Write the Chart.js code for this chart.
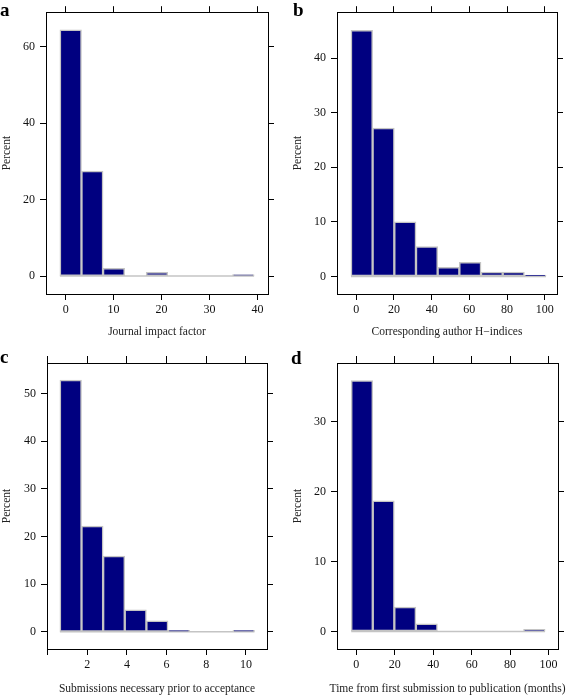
<!DOCTYPE html>
<html lang="en">
<head>
<meta charset="UTF-8">
<title>Histograms</title>
<script src="https://cdn.jsdelivr.net/npm/chart.js@4"></script>
<style>
  body { margin: 0; background: #fff; width: 566px; height: 695px; position: relative; overflow: hidden; font-family: "Liberation Serif", serif; }
  canvas { position: absolute; }
  .tag { position: absolute; font-weight: bold; font-size: 19px; line-height: 19px; color: #000; }
</style>
</head>
<body>
<canvas id="histA" width="283" height="340" style="left:0;top:0"></canvas>
<canvas id="histB" width="283" height="340" style="left:283px;top:0"></canvas>
<canvas id="histC" width="283" height="355" style="left:0;top:340px"></canvas>
<canvas id="histD" width="283" height="355" style="left:283px;top:340px"></canvas>
<div class="tag" style="left:0;top:0">a</div>
<div class="tag" style="left:293px;top:0">b</div>
<div class="tag" style="left:0;top:347px">c</div>
<div class="tag" style="left:291px;top:348px">d</div>
<script>
// a - journal impact factor
const impactEdges = [-1.2, 3.3, 7.8, 12.3, 16.8, 21.3, 25.8, 30.3, 34.8, 39.3]
const impactPercent = [64.5, 27.5, 2.0, 0, 1.0, 0, 0, 0, 0.4]
const impactTicks = [0, 10, 20, 30, 40]
const impactTickLabels = ['0', '10', '20', '30', '40']
const impactPercentTicks = [0, 20, 40, 60]

// b - corresponding author h-index
const hindexEdges = [-2.8, 8.7, 20.2, 31.7, 43.2, 54.7, 66.2, 77.7, 89.2, 100.7]
const hindexPercent = [45.1, 27.2, 10.0, 5.5, 1.7, 2.6, 0.8, 0.8, 0.25]
const hindexTicks = [0, 20, 40, 60, 80, 100]
const hindexTickLabels = ['0', '20', '40', '60', '80', '100']
const hindexPercentTicks = [0, 10, 20, 30, 40]

// c - submissions before acceptance
const submitEdges = [0.62, 1.71, 2.80, 3.89, 4.98, 6.07, 7.16, 8.25, 9.34, 10.43]
const submitPercent = [52.8, 22.2, 15.9, 4.6, 2.3, 0.3, 0, 0, 0.3]
const submitTicks = [0, 2, 4, 6, 8, 10]
const submitTickLabels = ['', '2', '4', '6', '8', '10']
const submitPercentTicks = [0, 10, 20, 30, 40, 50]

// d - months from first submission to publication
const monthsEdges = [-2.6, 8.6, 19.8, 31.0, 42.2, 53.4, 64.6, 75.8, 87.0, 98.2]
const monthsPercent = [35.9, 18.7, 3.5, 1.1, 0, 0, 0, 0, 0.3]
const monthsTicks = [0, 20, 40, 60, 80, 100]
const monthsTickLabels = ['0', '20', '40', '60', '80', '100']
const monthsPercentTicks = [0, 10, 20, 30]

const navy = '#000080'
const edgeGray = '#c4c4c4'
const tickFont = { family: 'Liberation Serif', size: 12 }

// x caption drawn by hand: the built-in axis title squeezes long text to the chart width
const axisCaption = {
  id: 'axisCaption',
  afterDraw(chart, args, opts) {
    const { ctx, chartArea } = chart
    ctx.save()
    ctx.font = opts.size + 'px "Liberation Serif"'
    ctx.fillStyle = '#222'
    ctx.textAlign = 'center'
    ctx.textBaseline = 'middle'
    ctx.fillText(opts.text, (chartArea.left + chartArea.right) / 2, chart.height - opts.fromBottom)
    ctx.restore()
  }
}

function binCenters(edges) {
  return edges.slice(1).map((e, i) => (edges[i] + e) / 2)
}

function makeHistogram(id, edges, values, xTicks, xLabels, yTicks, xTitle, box) {
  const ctx = document.getElementById(id).getContext('2d')
  const mids = binCenters(edges)
  const setTicks = vals => s => { s.ticks = vals.map(v => ({ value: v })) }
  const border = { display: true, color: '#000', width: 1 }
  const marks = len => ({ display: true, drawOnChartArea: false, drawTicks: true, tickLength: len, tickColor: '#000', tickWidth: 1, offset: false })
  const blank = { callback: () => '' }

  return new Chart(ctx, {
    type: 'bar',
    plugins: [axisCaption],
    data: {
      datasets: [{
        data: mids.map((m, i) => ({ x: m, y: values[i] })),
        backgroundColor: navy,
        borderColor: edgeGray,
        borderWidth: 1.5,
        borderSkipped: false,
        barPercentage: 1,
        categoryPercentage: 1,
        order: 1
      }, {
        type: 'line',
        data: [{ x: edges[0], y: 0 }, { x: edges[edges.length - 1], y: 0 }],
        borderColor: edgeGray,
        borderWidth: 1.5,
        pointRadius: 0,
        order: 2
      }]
    },
    options: {
      responsive: false,
      animation: false,
      layout: { padding: { left: box.padLeft, top: 0, right: 0, bottom: 0 } },
      plugins: {
        legend: { display: false },
        tooltip: { enabled: false },
        axisCaption: { text: xTitle, size: 11.5, fromBottom: box.captionY }
      },
      scales: {
        x: {
          type: 'linear', position: 'bottom', min: box.xMin, max: box.xMax, offset: false,
          grid: marks(6), border: border,
          afterBuildTicks: setTicks(xTicks),
          afterFit: s => { s.height = box.bottomH },
          ticks: { font: tickFont, color: '#111', padding: 3, maxRotation: 0, autoSkip: false, callback: (v, i) => xLabels[i] }
        },
        x2: {
          type: 'linear', position: 'top', min: box.xMin, max: box.xMax, offset: false,
          grid: marks(box.topTick), border: border,
          afterBuildTicks: setTicks(xTicks),
          afterFit: s => { s.height = box.topH },
          ticks: blank
        },
        y: {
          type: 'linear', position: 'left', min: box.yMin, max: box.yMax,
          grid: marks(6), border: border,
          afterBuildTicks: setTicks(yTicks),
          afterFit: s => { s.width = box.leftW },
          ticks: { font: tickFont, color: '#111', padding: 5, callback: v => String(v) },
          title: { display: true, text: 'Percent', font: { family: 'Liberation Serif', size: 11.5 }, color: '#222', padding: { top: 0, bottom: 0 } }
        },
        y2: {
          type: 'linear', position: 'right', min: box.yMin, max: box.yMax,
          grid: marks(6), border: border,
          afterBuildTicks: setTicks(yTicks),
          afterFit: s => { s.width = box.rightW },
          ticks: blank
        }
      }
    }
  })
}

document.addEventListener('DOMContentLoaded', () => {
  makeHistogram('histA', impactEdges, impactPercent, impactTicks, impactTickLabels, impactPercentTicks,
    'Journal impact factor',
    { padLeft: 0, leftW: 46, rightW: 15, topH: 6, topTick: 6, bottomH: 46, captionY: 8, xMin: -4.1, xMax: 42.2, yMin: -4.7, yMax: 69.1 })
  makeHistogram('histB', hindexEdges, hindexPercent, hindexTicks, hindexTickLabels, hindexPercentTicks,
    'Corresponding author H\u2212indices',
    { padLeft: 8, leftW: 46, rightW: 9, topH: 6, topTick: 6, bottomH: 46, captionY: 8, xMin: -10.2, xMax: 106.5, yMin: -3.2, yMax: 48.4 })
  makeHistogram('histC', submitEdges, submitPercent, submitTicks, submitTickLabels, submitPercentTicks,
    'Submissions necessary prior to acceptance',
    { padLeft: 0, leftW: 47, rightW: 16, topH: 23, topTick: 7, bottomH: 46, captionY: 6, xMin: -0.03, xMax: 11.06, yMin: -3.6, yMax: 56.4 })
  makeHistogram('histD', monthsEdges, monthsPercent, monthsTicks, monthsTickLabels, monthsPercentTicks,
    'Time from first submission to publication (months)',
    { padLeft: 8, leftW: 46, rightW: 8, topH: 23, topTick: 7, bottomH: 46, captionY: 6, xMin: -10.0, xMax: 104.9, yMin: -2.5, yMax: 38.4 })
})
</script>
</body>
</html>
